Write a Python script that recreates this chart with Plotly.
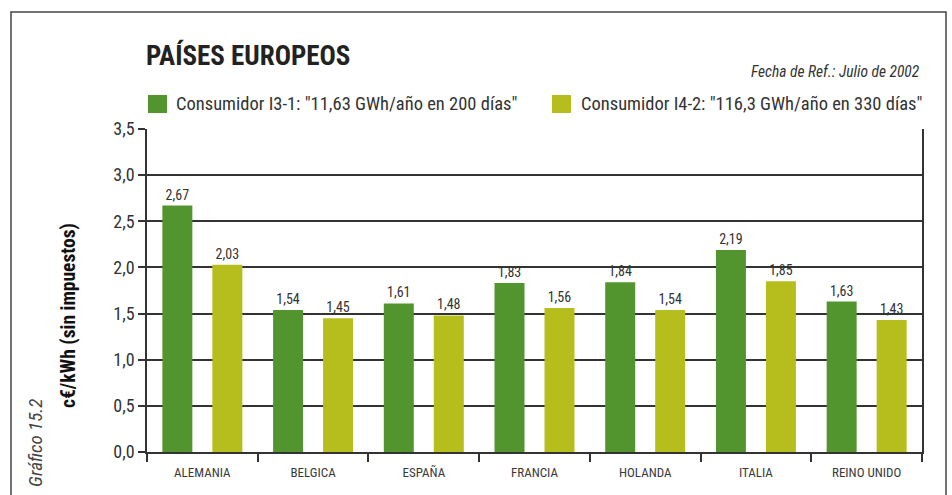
import plotly.graph_objects as go

paises = ["ALEMANIA", "BELGICA", "ESPAÑA", "FRANCIA", "HOLANDA", "ITALIA", "REINO UNIDO"]
consumidor_i3_1 = [2.67, 1.54, 1.61, 1.83, 1.84, 2.19, 1.63]
consumidor_i4_2 = [2.03, 1.45, 1.48, 1.56, 1.54, 1.85, 1.43]
y_ticks = [0.0, 0.5, 1.0, 1.5, 2.0, 2.5, 3.0, 3.5]

nombre_i3 = 'Consumidor I3-1: "11,63 GWh/año en 200 días"'
nombre_i4 = 'Consumidor I4-2: "116,3 GWh/año en 330 días"'

VERDE = "#52952f"
AMARILLO = "#b6be1e"
GRIS = "#333333"
FONT = "Roboto, sans-serif"

W, H = 952, 495
L, R, T, B = 147, 30, 129, 43
PW, PH = W - L - R, H - T - B


def cond(s):
    """Condensed width of the Roboto face."""
    return '<span style="font-stretch:condensed">' + s + "</span>"


def px(x):
    return (x - L) / PW


def py(y):
    return (H - B - y) / PH


fig = go.Figure()
for nombre, valores, color in [(nombre_i3, consumidor_i3_1, VERDE),
                               (nombre_i4, consumidor_i4_2, AMARILLO)]:
    fig.add_trace(go.Bar(
        x=paises, y=valores, name=nombre,
        marker=dict(color=color, line=dict(width=0)),
        texttemplate=cond("%{y:.2f}"), textposition="outside",
        textfont=dict(family=FONT, size=14, color=GRIS),
        cliponaxis=False, showlegend=False,
    ))

annotations = [
    dict(text=cond("<b>PAÍSES EUROPEOS</b>"), x=px(144), y=py(55), xanchor="left", yanchor="middle",
         font=dict(family=FONT, size=27, color="#222222")),
    dict(text=cond("<i>Fecha de Ref.: Julio de 2002</i>"), x=px(922), y=py(72), xanchor="right",
         yanchor="middle", font=dict(family=FONT, size=15.5, color=GRIS)),
    dict(text=cond(nombre_i3), x=px(174), y=py(104), xanchor="left", yanchor="middle",
         font=dict(family=FONT, size=18.5, color=GRIS)),
    dict(text=cond(nombre_i4), x=px(579), y=py(104), xanchor="left", yanchor="middle",
         font=dict(family=FONT, size=18.5, color=GRIS)),
    dict(text=cond("<b>c€/kWh (sin impuestos)</b>"), x=px(68), y=py(316), textangle=-90,
         xanchor="center", yanchor="middle", font=dict(family=FONT, size=19.5, color="#111111")),
    dict(text=cond("<i>Gráfico 15.2</i>"), x=px(35), y=py(443), textangle=-90,
         xanchor="center", yanchor="middle", font=dict(family=FONT, size=19, color="#444444")),
]
for a in annotations:
    a.update(xref="paper", yref="paper", showarrow=False)

shapes = [
    dict(type="rect", x0=px(11), x1=px(946), y0=py(12), y1=py(520),
         line=dict(color="#444444", width=1.5)),
    dict(type="rect", x0=px(148), x1=px(167), y0=py(95), y1=py(113),
         fillcolor=VERDE, line=dict(width=0)),
    dict(type="rect", x0=px(552), x1=px(571), y0=py(95), y1=py(113),
         fillcolor=AMARILLO, line=dict(width=0)),
]
for s in shapes:
    s.update(xref="paper", yref="paper", layer="above")

fig.update_layout(
    width=W, height=H,
    margin=dict(l=L, r=R, t=T, b=B, pad=0),
    paper_bgcolor="white", plot_bgcolor="white",
    separators=",.",
    barmode="group", bargap=0.097, bargroupgap=0.4,
    font=dict(family=FONT, color=GRIS),
    xaxis=dict(
        tickvals=paises, ticktext=[cond(p) for p in paises],
        showline=True, linecolor=GRIS, linewidth=1.5,
        ticks="outside", tickson="boundaries", ticklen=8, tickwidth=1.5, tickcolor=GRIS,
        tickfont=dict(family=FONT, size=13, color="#3a3a3a"), ticklabelstandoff=8,
        showgrid=False, fixedrange=True,
    ),
    yaxis=dict(
        range=[0, 3.5], tickvals=y_ticks,
        ticktext=[cond(f"{v:.1f}".replace(".", ",")) for v in y_ticks],
        showline=True, mirror=True, linecolor=GRIS, linewidth=1.5,
        ticks="outside", ticklen=7, tickwidth=1.5, tickcolor=GRIS,
        tickfont=dict(family=FONT, size=18, color=GRIS),
        showgrid=True, gridcolor=GRIS, gridwidth=1.5,
        zeroline=False, fixedrange=True,
    ),
    annotations=annotations,
    shapes=shapes,
)

fig.write_html("out.html")
